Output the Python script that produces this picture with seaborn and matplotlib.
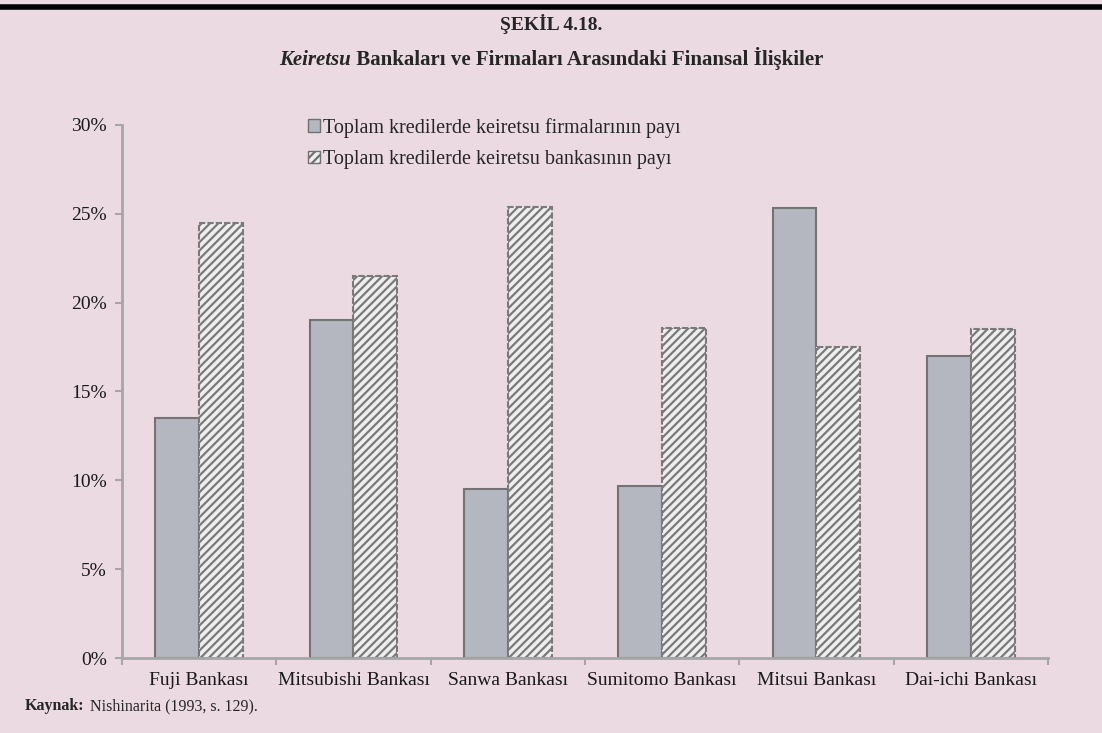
import pandas as pd
import seaborn as sns
import matplotlib.pyplot as plt
from matplotlib.ticker import FuncFormatter, FixedLocator
from matplotlib.lines import Line2D

# Data (percent)
banks = ['Fuji Bankası', 'Mitsubishi Bankası', 'Sanwa Bankası',
         'Sumitomo Bankası', 'Mitsui Bankası', 'Dai-ichi Bankası']
firm_share = [13.5, 19.0, 9.5, 9.7, 25.3, 17.0]
bank_share = [24.5, 21.5, 25.4, 18.6, 17.5, 18.5]
series = ['Toplam kredilerde keiretsu firmalarının payı',
          'Toplam kredilerde keiretsu bankasının payı']

df = pd.DataFrame({
    'bank': banks * 2,
    'value': firm_share + bank_share,
    'series': [series[0]] * len(banks) + [series[1]] * len(banks),
})

bg = '#EBDAE1'
sns.set_theme(style='white')
plt.rcParams['font.family'] = ['Liberation Serif', 'DejaVu Serif']
plt.rcParams['hatch.linewidth'] = 1.6
plt.rcParams['hatch.color'] = '#7A7A7A'

fig = plt.figure(figsize=(11.02, 7.33), dpi=100, facecolor=bg)
ax = fig.add_axes([0.1107, 0.1023, 0.8403, 0.7272])
ax.set_facecolor(bg)

sns.barplot(data=df, x='bank', y='value', hue='series',
            palette=['#B4B7BF', '#EEEEEE'], width=0.57, saturation=1,
            edgecolor='#737373', linewidth=1.5, ax=ax)

# hatch the second series
n = len(banks)
for p in ax.patches[n:2 * n]:
    p.set_hatch('////')
    p.set_edgecolor('#7A7A7A')
    p.set_linestyle((0, (3, 1)))

ax.set_ylim(0, 30)
ax.set_xlim(-0.5, n - 0.5)
ax.set_xlabel('')
ax.set_ylabel('')
ax.yaxis.set_major_locator(FixedLocator([0, 5, 10, 15, 20, 25, 30]))
ax.yaxis.set_major_formatter(FuncFormatter(lambda v, _: f'{v:.0f}%'))
ax.xaxis.set_minor_locator(FixedLocator([i - 0.5 for i in range(n + 1)]))
ax.tick_params(axis='x', which='major', length=0, pad=10, labelsize=14, labelcolor='#1a1a1a')
ax.tick_params(axis='x', which='minor', length=5, width=1.5, color='#A6A6A6', direction='out', bottom=True)
ax.tick_params(axis='y', length=5, width=1.5, color='#A6A6A6', direction='out', left=True,
               labelsize=14, labelcolor='#1a1a1a', pad=6)

for s in ['top', 'right']:
    ax.spines[s].set_visible(False)
for s in ['left', 'bottom']:
    ax.spines[s].set_color('#A6A6A6')
    ax.spines[s].set_linewidth(2)

handles, labels = ax.get_legend_handles_labels()
leg = fig.legend(handles, labels, loc='upper left', bbox_to_anchor=(0.2795, 0.839),
                 frameon=False, fontsize=14.5, handlelength=0.6, handleheight=0.6,
                 handletextpad=0.15, labelspacing=0.6, borderpad=0, borderaxespad=0)
ax.get_legend().remove()
for h in leg.legend_handles:
    h.set_linewidth(1)
    h.set_edgecolor('#707070')
leg.legend_handles[1].set_hatch('////')

# titles
fig.text(0.5, 0.959, 'ŞEKİL 4.18.', ha='center', va='baseline', fontsize=14, fontweight='bold')
r = fig.canvas.get_renderer()
part1 = 'Keiretsu'
part2 = ' Bankaları ve Firmaları Arasındaki Finansal İlişkiler'
t1 = fig.text(0, 0.911, part1, ha='left', va='baseline', fontsize=15,
              fontweight='bold', style='italic')
t2 = fig.text(0, 0.911, part2, ha='left', va='baseline', fontsize=15, fontweight='bold')
w1 = t1.get_window_extent(r).width
w2 = t2.get_window_extent(r).width
W = fig.bbox.width
x0 = (W - w1 - w2) / 2
t1.set_x(x0 / W)
t2.set_x((x0 + w1) / W)

k = fig.text(0.0227, 0.031, 'Kaynak:', ha='left', va='baseline', fontsize=11.5, fontweight='bold')
wk = k.get_window_extent(r).width
fig.text(0.0227 + (wk + 1) / W, 0.031, ' Nishinarita (1993, s. 129).', ha='left', va='baseline',
         fontsize=11.5)

# black rule at the top
fig.add_artist(Line2D([0, 1], [0.991, 0.991], color='black', linewidth=4, transform=fig.transFigure))

fig.savefig('out.png', dpi=100, facecolor=bg)
